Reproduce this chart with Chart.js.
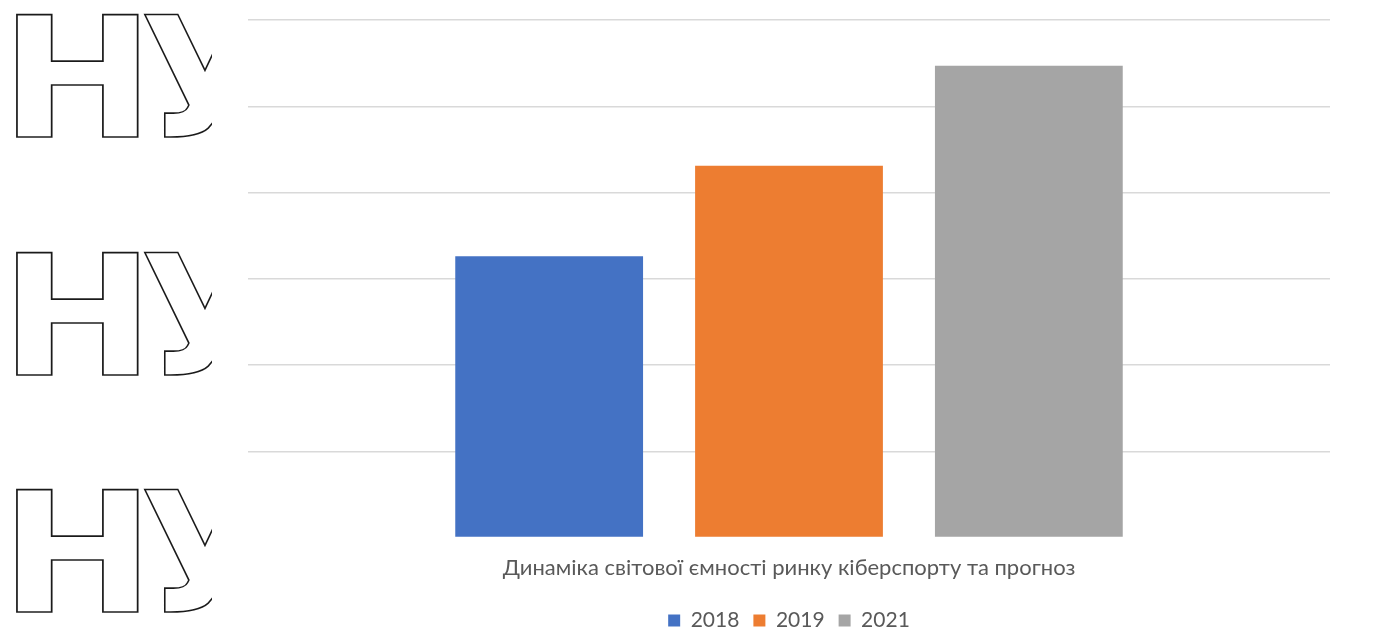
<!DOCTYPE html>
<html>
<head>
<meta charset="utf-8">
<script src="https://cdn.jsdelivr.net/npm/chart.js@4"></script>
<style>
    html, body { margin: 0; padding: 0; background: #fff; }
    #wrap { width: 1396px; height: 630px; }
</style>
</head>
<body>
<div id="wrap"><canvas id="barChart"></canvas></div>
<script>
// data (no axis labels shown, so plain units)
const categories = [''];
const seriesLabels = ['2018', '2019', '2021'];
const values2018 = [3.26];
const values2019 = [4.31];
const values2021 = [5.47];
const seriesColors = ['#4472C4', '#ED7D31', '#A5A5A5'];
const yMin = 0;
const yMax = 6;
const yStep = 1;
const axisTitle = 'Динаміка світової ємності ринку кіберспорту та прогноз';

const textColor = '#595959';
const fontFamily = 'Lato, "Open Sans", sans-serif';

// outlined "НУ" watermark showing at the left edge of the scan
const watermark = {
    id: 'watermark',
    beforeDraw(chart) {
        const c = chart.ctx;
        c.save();
        c.beginPath();
        c.rect(0, 0, 212, chart.height);
        c.clip();
        c.font = 'bold 168px "DejaVu Sans"';
        c.strokeStyle = '#1a1a1a';
        c.lineWidth = 1.6;
        c.textBaseline = 'alphabetic';
        [137, 375, 612].forEach(y => {
            c.save();
            c.translate(0, y);
            c.scale(1.1, 1);
            c.strokeText('Н', 0, 0);
            c.restore();
            c.strokeText('У', 140, y);
        });
        c.restore();
    }
};

const ctx = document.getElementById('barChart');

new Chart(ctx, {
    type: 'bar',
    data: {
        labels: categories,
        datasets: [values2018, values2019, values2021].map((vals, i) => ({
            label: seriesLabels[i],
            data: vals,
            backgroundColor: seriesColors[i],
            borderWidth: 0
        }))
    },
    options: {
        responsive: true,
        maintainAspectRatio: false,
        animation: false,
        categoryPercentage: 0.665,
        barPercentage: 0.783,
        layout: {
            padding: { left: 248, right: 66, top: 20, bottom: -11 }
        },
        plugins: {
            legend: {
                position: 'bottom',
                labels: {
                    boxWidth: 12,
                    boxHeight: 12,
                    padding: 14,
                    color: textColor,
                    font: { family: fontFamily, size: 21 }
                }
            },
            tooltip: { enabled: false }
        },
        scales: {
            x: {
                grid: { display: false },
                border: { display: false },
                ticks: { display: false },
                title: {
                    display: true,
                    text: axisTitle,
                    color: textColor,
                    font: { family: fontFamily, size: 22 },
                    padding: { top: 9, bottom: 15 }
                }
            },
            y: {
                min: yMin,
                max: yMax,
                grid: {
                    color: (c) => c.tick && c.tick.value === 0 ? 'rgba(0,0,0,0)' : '#D9D9D9',
                    lineWidth: 1.5,
                    drawTicks: false
                },
                border: { display: false },
                ticks: { display: false, stepSize: yStep }
            }
        }
    },
    plugins: [watermark]
});
</script>
</body>
</html>
